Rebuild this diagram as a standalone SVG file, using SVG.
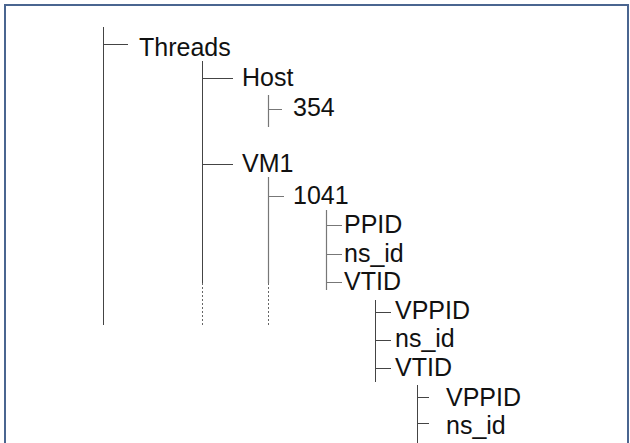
<svg xmlns="http://www.w3.org/2000/svg" width="630" height="443" viewBox="0 0 630 443">
<style>
.t{font-family:"Liberation Sans",Arial,sans-serif;font-size:25px;fill:#111}
.l{stroke:#444;stroke-width:1;fill:none}
.g{stroke:#777;stroke-width:1.2;fill:none}
.d{stroke:#666;stroke-width:1;fill:none;stroke-dasharray:2 2}
</style>
<rect width="630" height="443" fill="#fff"/>
<path d="M5,443 V5 H628 V443" fill="none" stroke="#4a6590" stroke-width="2"/>
<g id="connectors">
<path class="l" d="M103.5,27 V325 M103.5,44.5 H128"/>
<path class="l" d="M202.5,61 V283 M202.5,78.5 H233 M202.5,164.5 H233"/>
<path class="d" d="M202.5,283 V325"/>
<path class="g" d="M268.5,95 V127 M268.5,109.5 H282"/>
<path class="g" d="M268.5,177 V283 M268.5,196.5 H284"/>
<path class="d" d="M268.5,283 V325"/>
<path class="g" d="M326.5,210 V290 M326.5,225.5 H342 M326.5,254.5 H342 M326.5,282.5 H342"/>
<path class="l" d="M375.5,300 V382 M375.5,312.5 H391 M375.5,340.5 H391 M375.5,368.5 H391"/>
<path class="l" d="M417.5,385 V443 M417.5,397.5 H429 M417.5,423.5 H429"/>
</g>
<g id="threads"><text class="t" x="139" y="56">Threads</text></g>
<g id="host"><text class="t" x="242" y="86">Host</text></g>
<g id="pid354"><text class="t" x="293" y="116">354</text></g>
<g id="vm1"><text class="t" x="242" y="172">VM1</text></g>
<g id="pid1041"><text class="t" x="293" y="204">1041</text></g>
<g id="ppid"><text class="t" x="344" y="233">PPID</text></g>
<g id="nsid1"><text class="t" x="344" y="262">ns_id</text></g>
<g id="vtid1"><text class="t" x="344" y="290">VTID</text></g>
<g id="vppid1"><text class="t" x="395" y="319">VPPID</text></g>
<g id="nsid2"><text class="t" x="395" y="347">ns_id</text></g>
<g id="vtid2"><text class="t" x="395" y="376">VTID</text></g>
<g id="vppid2"><text class="t" x="446" y="406">VPPID</text></g>
<g id="nsid3"><text class="t" x="446" y="434">ns_id</text></g>
</svg>
